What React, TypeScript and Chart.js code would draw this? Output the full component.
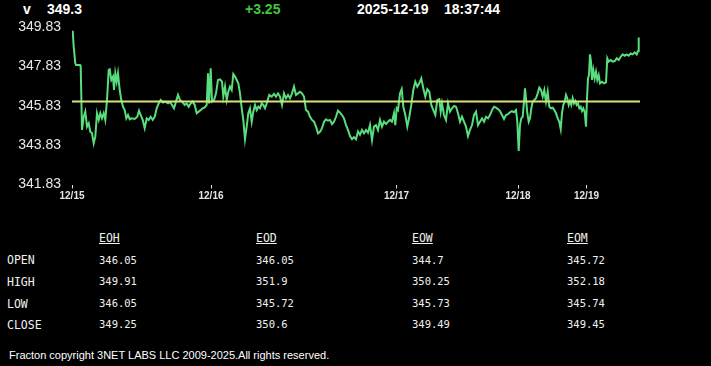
import React, { useEffect, useRef } from "react";
import { Chart, registerables } from "chart.js";

Chart.register(...registerables);

const symbol = "v";
const lastPrice = "349.3";
const change = "+3.25";
const dateText = "2025-12-19";
const timeText = "18:37:44";
const prevClose = 346.05;

const yTicks = [341.83, 343.83, 345.83, 347.83, 349.83];
const dayTickIdx = [0, 139, 324.5, 446, 514.5];
const dayLabels = ["12/15", "12/16", "12/17", "12/18", "12/19"];
const idxMin = 0;
const idxMax = 568;

const timeIdx = [
  0.7, 1.7, 3.3, 4, 8, 8.7, 10, 11.7, 13.3, 15, 16.7, 18.3, 20, 21.7, 23.3, 25, 26.7, 28.3, 30, 31.7, 33.3, 35, 36.7, 37.7,
  39.3, 41, 42, 43.3, 44.7, 46, 47.7, 49.3, 51, 52.7, 54.3, 56, 57.7, 59.3, 62.7, 65.3, 67, 68.7, 70.7, 72.7, 74.7, 76.7,
  78.7, 80.7, 82.7, 84.7, 86.7, 88.7, 91, 93.3, 96, 98, 100, 102, 104, 106, 108, 110, 112.7, 114.7, 116.7, 118.7, 120.7,
  122.7, 124.7, 126.7, 128.7, 130.7, 132.7, 134.7, 136, 137, 138.7, 140,
  142, 144, 146, 148, 150, 151.3, 153, 154.7, 156.3, 158, 159.7, 161.3, 163, 164.7, 166.3, 168, 169.7, 171.3, 173, 174.7,
  176.3, 178, 179.7, 181.3, 183, 184.7, 186.3, 188, 189.7, 191.3, 193, 194.7, 197.3, 199.7, 202, 204, 206, 208, 210, 212,
  214, 216, 218, 220, 222, 224, 226, 228, 230, 232, 234, 236, 238, 240, 242, 244, 246, 248, 250, 252, 254, 256, 258, 260,
  262, 264, 266, 268, 270, 272, 274, 276, 278, 280, 282,
  284, 286, 288, 290, 292, 294, 296, 298, 300, 302, 304, 306, 308, 310, 312, 314, 316, 318, 320, 322, 323.3, 324.7, 326,
  328, 329.7, 331.3, 333.3, 335.3, 337.3, 339.3, 341.3, 343.3, 345.3, 347.3, 349.3, 351.3, 353.3, 355.3, 357.3, 359.3,
  361.3, 363.3, 365.3, 367.3, 368.7, 370, 372, 374, 376, 378, 380, 382, 384, 386, 388, 390, 392, 394, 396, 398, 400, 402,
  404, 406, 408, 410, 412, 414, 416, 418,
  420, 422, 424, 426, 428, 430, 432, 434, 436, 438, 440, 442, 444, 445.3, 446.7, 448, 449.3, 450.7, 452, 453, 454, 455.3,
  456.7, 458, 459.3, 460.7, 462.3, 464, 465.7, 467.3, 469, 470.7, 472.3, 474, 475.7, 477.3, 479, 480.7, 482.3, 484, 485.7,
  487.3, 488.7, 490, 491.3, 492.7, 494, 495.3, 496.7, 498, 499.3, 500.7, 502, 503.3, 504.7, 506, 507.3, 508.7, 510, 511.3,
  512.7, 514, 515, 516, 517, 518, 519, 520, 521.3, 522.7, 524, 525.3, 526.7, 528, 530, 532, 534, 535.3, 536.7, 538.7,
  540.7, 542.7, 544.7, 546.7, 548.7, 550.7, 552.7, 554.7, 556.7, 558.7, 560.7, 562.7, 564.7, 566, 566.7,
];

const prices = [
  349.64, 348.83, 347.99, 347.9, 347.9, 347.81, 344.6, 345.27, 345.53, 344.77, 344.94, 344.51, 344.43, 343.92, 344.26,
  345.45, 345.11, 345.45, 345.19, 345.45, 345.11, 346.12, 347.65, 347.68, 347.14, 347.31, 346.63, 347.48, 347.05, 347.48,
  346.63, 346.12, 345.78, 345.61, 345.19, 345.36, 345.14, 345.19, 345.16, 345.27, 345.58, 345.36, 345.11, 344.69, 345.19,
  345.11, 345.27, 345.11, 345.27, 345.7, 345.95, 346.12, 345.99, 346.04, 345.95, 346.02, 345.87, 345.7, 346.04, 346.38,
  346.12, 346.04, 345.87, 345.95, 345.78, 345.95, 346.04, 345.87, 345.45, 345.53, 345.61, 345.7, 345.75, 345.87, 347.48,
  345.95, 347.73, 346.04,
  346.12, 346.46, 347.14, 347.17, 347.05, 346.29, 346.8, 346.12, 346.54, 346.8, 346.63, 347.44, 347.31, 347.14, 346.97,
  346.46, 345.7, 345.11, 344.13, 344.77, 345.45, 345.7, 345.02, 345.53, 345.87, 345.61, 345.78, 345.7, 345.95, 345.87,
  345.7, 345.95, 346.38, 346.29, 346.43, 346.29, 346.46, 346.29, 345.87, 346.46, 346.21, 346.38, 346.21, 346.46, 346.8,
  346.38, 346.46, 346.54, 346.46, 346.29, 345.61, 345.53, 345.27, 345.11, 345.02, 344.77, 344.43, 344.51, 344.69, 345.02,
  345.14, 345.07, 345.11, 344.9, 345.02, 345.27, 345.58, 345.48, 345.36, 345.19, 344.85, 344.6, 344.29, 344.13, 344.23,
  344.13, 344.52, 344.35, 344.6, 344.43, 344.6, 344.46, 344.85, 344.09, 344.77, 344.85, 344.6, 345.11, 344.77, 345.02,
  344.9, 345.02, 345.11, 345.02, 345.45, 344.85, 345.7, 345.61, 346.46, 346.67, 345.78, 345.36, 344.77, 345.27, 345.87,
  346.63, 347.05, 346.8, 346.97, 347.22, 346.72, 346.29, 346.67, 346.54, 345.87, 345.61, 345.36, 346.12, 346.16, 345.53,
  345.95, 345.36, 345.11, 345.95, 345.53, 345.7, 345.82, 345.78, 345.45, 345.02, 345.27, 345.02, 344.77, 344.29, 344.6,
  344.85, 345.36, 345.53, 344.85, 345.02, 345.19, 345.02, 345.27, 345.19, 345.36,
  345.61, 345.78, 345.73, 345.66, 345.56, 345.36, 345.16, 345.36, 345.4, 345.5, 345.56, 345.5, 345.61, 345.02, 343.53,
  344.85, 345.19, 345.27, 346.04, 346.72, 346.21, 345.45, 345.02, 345.19, 345.7, 346.04, 346.12, 346.21, 346.46, 346.75,
  346.63, 346.29, 346.63, 346.04, 346.54, 345.78, 345.7, 345.73, 345.61, 345.45, 345.19, 345.02, 344.65, 345.45, 345.87,
  346.04, 346.38, 346.21, 345.87, 346.07, 345.87, 346.21, 345.95, 346.07, 345.87, 345.95, 345.7, 345.78, 345.56, 345.7,
  345.5, 344.77, 346.21, 347.22, 347.39, 348.44, 348.07, 347.14, 347.65, 347.22, 347.56, 347.14, 347.39, 346.97, 347.05,
  346.97, 347.02, 348.24, 348.07, 348.15, 348.07, 348.1, 348.24, 348.15, 348.32, 348.44, 348.37, 348.44, 348.37, 348.49,
  348.44, 348.54, 348.44, 348.61, 349.3,
];

const tableCols = ["EOH", "EOD", "EOW", "EOM"];
const rowLabels = ["OPEN", "HIGH", "LOW", "CLOSE"];
const eohValues = ["346.05", "349.91", "346.05", "349.25"];
const eodValues = ["346.05", "351.9", "345.72", "350.6"];
const eowValues = ["344.7", "350.25", "345.73", "349.49"];
const eomValues = ["345.72", "352.18", "345.74", "349.45"];
const footerText = "Fracton copyright 3NET LABS LLC 2009-2025.All rights reserved.";

const colLefts = [99, 256, 412, 567];
const rowCenters = [260, 281.5, 303.5, 324.5];

function PriceChart() {
  const ref = useRef<HTMLCanvasElement | null>(null);
  useEffect(() => {
    if (!ref.current) return;
    const chart = new Chart(ref.current, {
      type: "line",
      data: {
        datasets: [
          {
            label: "prev",
            data: [
              { x: idxMin, y: prevClose },
              { x: idxMax, y: prevClose },
            ],
            borderColor: "#d8e27a",
            borderWidth: 2,
            pointRadius: 0,
          },
          {
            label: symbol,
            data: timeIdx.map((t, i) => ({ x: t, y: prices[i] })),
            borderColor: "#58de7c",
            borderWidth: 2,
            pointRadius: 0,
            tension: 0,
          },
        ],
      },
      options: {
        animation: false,
        responsive: false,
        devicePixelRatio: 1,
        layout: { padding: { top: 27, right: 71, left: 0, bottom: 0 } },
        plugins: { legend: { display: false }, tooltip: { enabled: false } },
        scales: {
          x: {
            type: "linear",
            min: idxMin,
            max: idxMax,
            afterBuildTicks: (s: any) => {
              s.ticks = dayTickIdx.map((v) => ({ value: v }));
            },
            afterFit: (s: any) => {
              s.height = 30.5;
            },
            ticks: {
              autoSkip: false,
              maxRotation: 0,
              minRotation: 0,
              padding: 2,
              color: "#e6e6e6",
              font: { family: "Liberation Sans, Arial", size: 10, weight: "bold" },
              callback: (_v: any, i: number) => dayLabels[i],
            },
            grid: {
              display: true,
              drawOnChartArea: false,
              drawTicks: true,
              tickLength: 4,
              color: "#dddddd",
              lineWidth: 1,
            },
            border: { display: false },
          },
          y: {
            type: "linear",
            min: yTicks[0],
            max: yTicks[yTicks.length - 1],
            afterBuildTicks: (s: any) => {
              s.ticks = yTicks.map((v) => ({ value: v }));
            },
            afterFit: (s: any) => {
              s.width = 72;
            },
            ticks: {
              padding: 11,
              color: "#e8e8e8",
              font: { family: "Liberation Sans, Arial", size: 14 },
              callback: (v: any) => Number(v).toFixed(2),
            },
            grid: { display: false, drawTicks: false },
            border: { display: false },
          },
        },
      },
    });
    return () => chart.destroy();
  }, []);
  return (
    <canvas
      ref={ref}
      width={711}
      height={215}
      style={{ position: "absolute", left: 0, top: 0, width: 711, height: 215 }}
    />
  );
}

export default function App() {
  const valueCols = [eohValues, eodValues, eowValues, eomValues];
  const headStyle: React.CSSProperties = {
    position: "absolute",
    top: 1,
    fontFamily: "Liberation Sans, Arial, sans-serif",
    fontWeight: "bold",
    fontSize: 14,
    lineHeight: "16px",
    color: "#ffffff",
    whiteSpace: "pre",
  };
  const mono = "DejaVu Sans Mono, monospace";
  return (
    <div
      style={{
        position: "fixed",
        left: 0,
        top: 0,
        width: 711,
        height: 366,
        background: "#000000",
        overflow: "hidden",
      }}
    >
      <span style={{ ...headStyle, left: 23 }}>{symbol}</span>
      <span style={{ ...headStyle, left: 47 }}>{lastPrice}</span>
      <span style={{ ...headStyle, left: 245, color: "#3ec83e" }}>{change}</span>
      <span style={{ ...headStyle, left: 357 }}>{dateText}</span>
      <span style={{ ...headStyle, left: 444 }}>{timeText}</span>
      <PriceChart />
      {tableCols.map((c, i) => (
        <div
          key={c}
          style={{
            position: "absolute",
            left: colLefts[i],
            top: 231,
            fontFamily: mono,
            fontSize: 11.5,
            lineHeight: "14px",
            color: "#f0f0f0",
            textDecoration: "underline",
          }}
        >
          {c}
        </div>
      ))}
      {rowLabels.map((r, ri) => (
        <div
          key={r}
          style={{
            position: "absolute",
            left: 7,
            top: rowCenters[ri] - 7,
            fontFamily: mono,
            fontSize: 11.5,
            lineHeight: "14px",
            color: "#f0f0f0",
          }}
        >
          {r}
        </div>
      ))}
      {valueCols.map((col, ci) =>
        col.map((v, ri) => (
          <div
            key={ci + "-" + ri}
            style={{
              position: "absolute",
              left: colLefts[ci],
              top: rowCenters[ri] - 7.5,
              fontFamily: mono,
              fontSize: 10.5,
              lineHeight: "14px",
              color: "#f0f0f0",
            }}
          >
            {v}
          </div>
        ))
      )}
      <div
        style={{
          position: "absolute",
          left: 9,
          top: 348,
          fontFamily: "Liberation Sans, Arial, sans-serif",
          fontSize: 11,
          lineHeight: "14px",
          color: "#ffffff",
          whiteSpace: "pre",
        }}
      >
        {footerText}
      </div>
    </div>
  );
}
